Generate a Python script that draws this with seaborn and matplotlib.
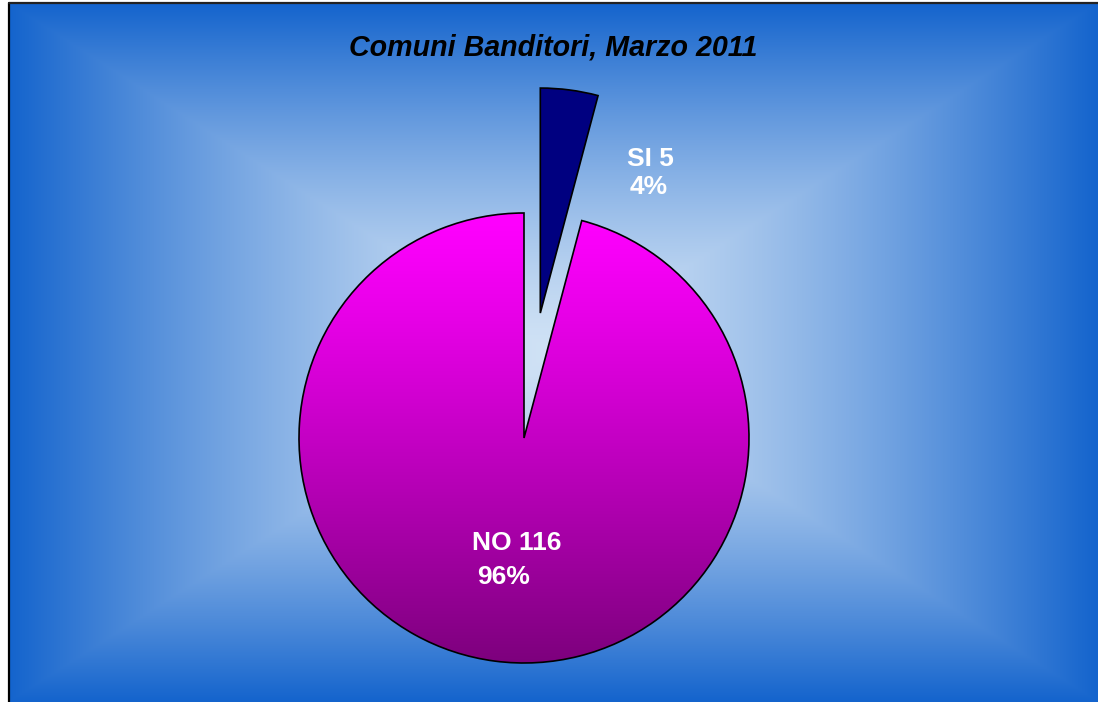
import numpy as np
import matplotlib
matplotlib.use("Agg")
import matplotlib.pyplot as plt
import matplotlib.patches as mpatches
import seaborn as sns

sns.set_style("white")
plt.rcParams['font.family'] = ['Liberation Sans', 'DejaVu Sans']

# Data
categories = ["SI", "NO"]
counts = [5, 116]
percent_labels = ["4%", "96%"]
title = "Comuni Banditori, Marzo 2011"

W, H = 1098, 702
fig = plt.figure(figsize=(W / 100, H / 100), dpi=100)
ax = fig.add_axes([0, 0, 1, 1])
ax.set_xlim(0, W)
ax.set_ylim(0, H)
ax.axis("off")
fig.patch.set_facecolor("white")

# Background rectangular gradient
x0, x1, y0, y1 = 9, W, 0, H - 3
cx, cy = (x0 + x1) / 2, (y0 + y1) / 2
xs = np.linspace(x0, x1, 600)
ys = np.linspace(y0, y1, 400)
X, Y = np.meshgrid(xs, ys)
t = np.maximum(np.abs(X - cx) / ((x1 - x0) / 2), np.abs(Y - cy) / ((y1 - y0) / 2))
t = np.clip(t, 0, 1) ** 1.4
c_center = np.array([208, 226, 245]) / 255
c_edge = np.array([20, 100, 205]) / 255
img = c_center[None, None, :] * (1 - t[..., None]) + c_edge[None, None, :] * t[..., None]
ax.imshow(img, extent=[x0, x1, y0, y1], origin="lower", aspect="auto", zorder=0)
ax.plot([8.5, 8.5], [-5, H - 2.5], color="black", lw=1.6, zorder=1)
ax.plot([8.5, W + 5], [H - 2.5, H - 2.5], color="#222222", lw=1.6, zorder=1)

# Pie
center = (524, H - 438)
radius = 225
wedges, _ = ax.pie(counts, center=center, radius=radius, startangle=90,
                   counterclock=False, explode=[126, 0],
                   colors=["#000080", "none"],
                   wedgeprops=dict(edgecolor="black", linewidth=1.2),
                   frame=True)
ax.set_xlim(0, W)
ax.set_ylim(0, H)
ax.set_aspect("auto")
ax.axis("off")

# Gradient fill for NO wedge
no_w = wedges[1]
gy = np.linspace(0, 1, 256)[:, None] ** 1.15
top = np.array([255, 0, 255]) / 255
bot = np.array([125, 0, 125]) / 255
grad = top[None, None, :] * (1 - gy[..., None]) + bot[None, None, :] * gy[..., None]
grad = np.repeat(grad, 2, axis=1)
gim = ax.imshow(grad, extent=[center[0] - radius, center[0] + radius,
                              center[1] - radius, center[1] + radius],
                origin="upper", aspect="auto", zorder=2)
gim.set_clip_path(no_w)
no_w.set_zorder(3)
wedges[0].set_zorder(3)

# Labels
ax.text(553, H - 47, title, ha="center", va="center", fontsize=20.6,
        fontweight="bold", fontstyle="italic", color="black", zorder=5)
ax.text(650, H - 159, f"{categories[0]} {counts[0]}", ha="center", va="center",
        fontsize=19, fontweight="bold", color="white", zorder=5)
ax.text(649, H - 187, percent_labels[0], ha="center", va="center",
        fontsize=19, fontweight="bold", color="white", zorder=5)
ax.text(517, H - 543, f"{categories[1]} {counts[1]}", ha="center", va="center",
        fontsize=19, fontweight="bold", color="white", zorder=5)
ax.text(504, H - 577, percent_labels[1], ha="center", va="center",
        fontsize=19, fontweight="bold", color="white", zorder=5)

fig.savefig("out.png", dpi=100)
